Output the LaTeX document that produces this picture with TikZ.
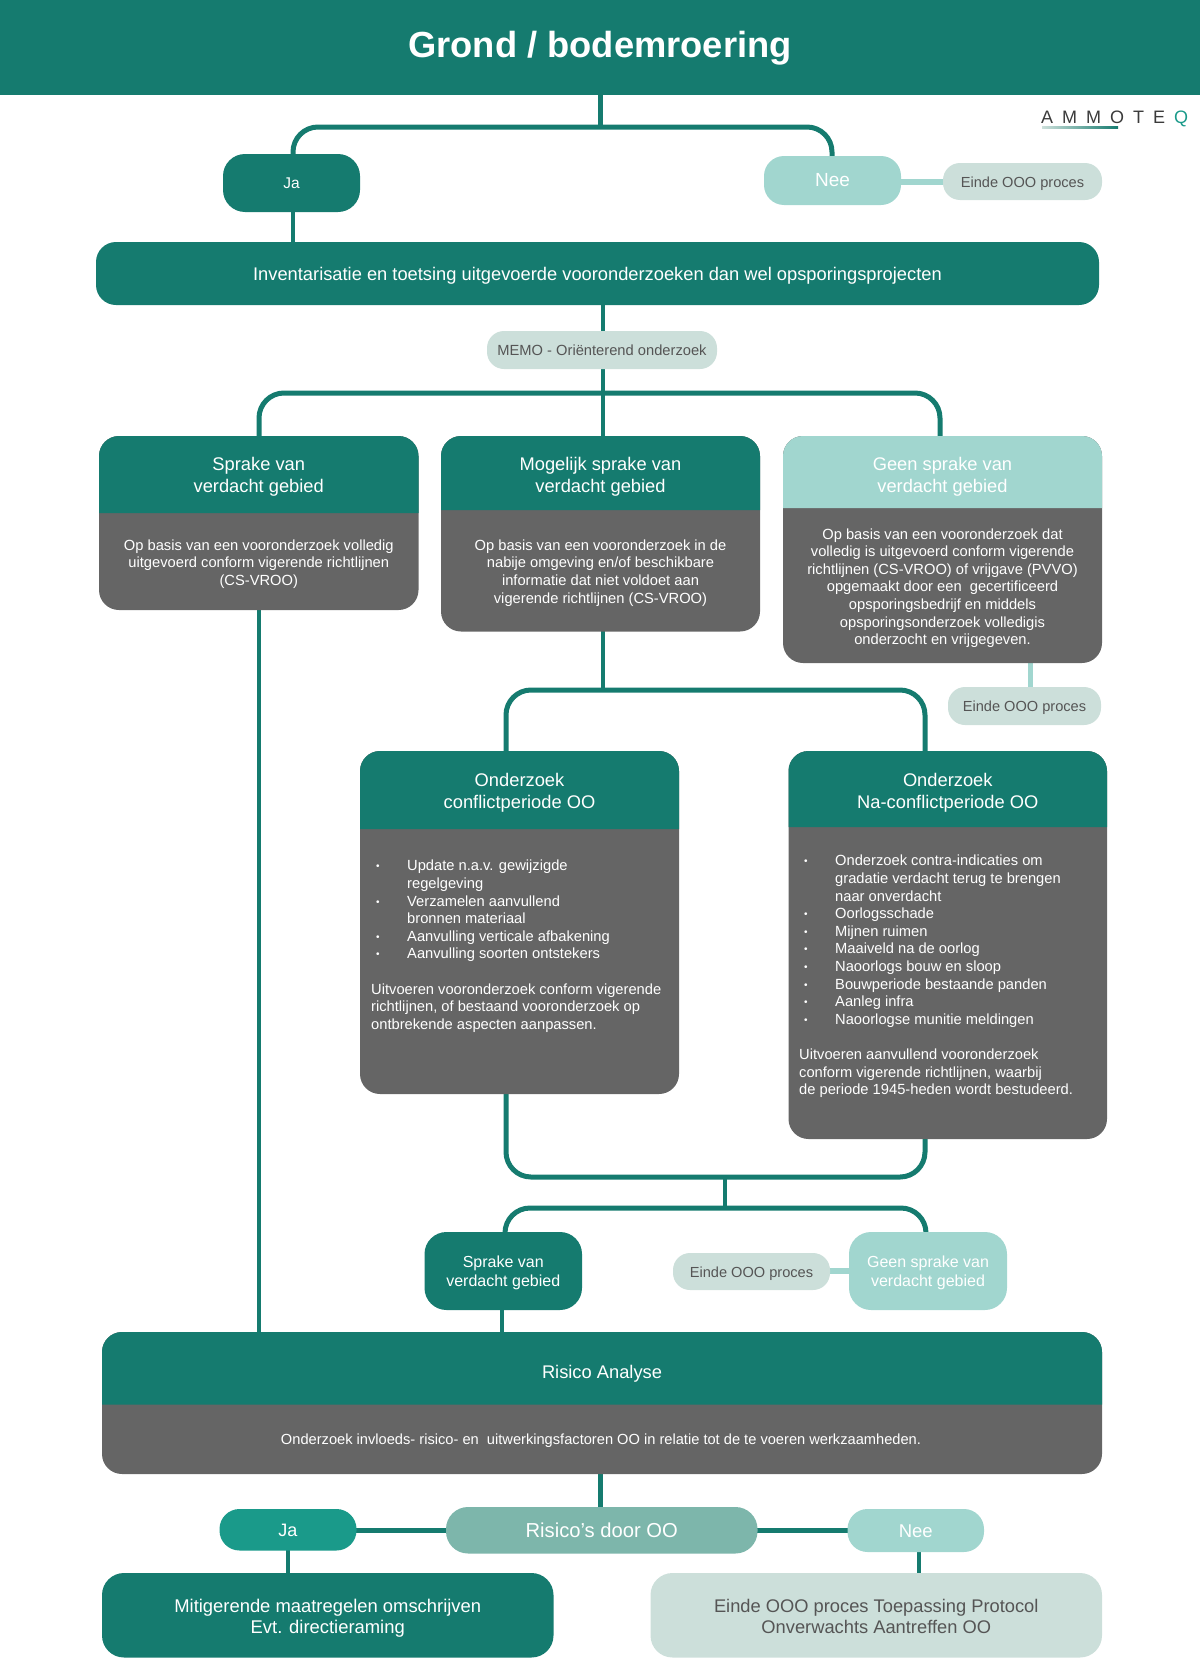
\documentclass[tikz,border=0pt]{standalone}
\usepackage{fontspec}
\setmainfont{Liberation Sans}
\newfontfamily\logofont[LetterSpace=50]{Liberation Sans}
\definecolor{mainteal}{HTML}{157B6F}
\definecolor{midteal}{HTML}{1A9A8A}
\definecolor{lightteal}{HTML}{A1D6CF}
\definecolor{softteal}{HTML}{7DB6AB}
\definecolor{palegrey}{HTML}{CCDFDA}
\definecolor{cardgrey}{HTML}{656565}
\definecolor{inkgrey}{HTML}{555555}
\newcommand{\fs}[2]{\fontsize{#1pt}{#2pt}\selectfont}
\newcommand{\bx}[8]{% style, name, x1, y1, x2, y2, text drop, text
  \pgfmathsetmacro{\bxw}{#5-#3}\pgfmathsetmacro{\bxh}{#6-#4}
  \pgfmathsetmacro{\bxx}{(#3+#5)/2}\pgfmathsetmacro{\bxy}{(#4+#6)/2}
  \node[#1,minimum width=\bxw pt,minimum height=\bxh pt] (#2) at (\bxx,\bxy) {};
  \node[#1,fill=none,yshift=-#7pt] (#2t) at (#2.center) {#8};}
\newcommand{\hd}[7]{% name, x1, y1, x2, ysplit, text centre y, text
  \fill[mainteal] (#2,#5) [rounded corners=20pt] -- (#2,#3) -- (#4,#3) [sharp corners] -- (#4,#5) -- cycle;
  \pgfmathsetmacro{\bxx}{(#2+#4)/2}
  \node[headtxt] (#1) at (\bxx,#6) {#7};}
\newcommand{\bl}{\hspace*{5pt}\makebox[31pt][l]{\raisebox{1pt}{\fs{10}{10}•}}}
\newcommand{\nb}{\hspace*{36pt}}
\tikzset{
  x=1pt,y=-1pt,
  boxbase/.style={inner sep=0pt,align=center,draw=none},
  darkbox/.style={boxbase,fill=mainteal,text=white},
  lightbox/.style={boxbase,fill=lightteal,text=white},
  palebox/.style={boxbase,fill=palegrey,text=inkgrey},
  pill/.style={rounded corners=17pt},
  cardbody/.style={boxbase,fill=cardgrey,rounded corners=20pt},
  headtxt/.style={inner sep=0pt,align=center,text=white,font=\fs{18.3}{22}},
  bodytxt/.style={inner sep=0pt,align=center,text=white,font=\fs{14.7}{17.6}},
  listtxt/.style={inner sep=0pt,align=left,text=white,font=\fs{14.7}{17.6},anchor=north west},
  conn/.style={draw=mainteal,line width=5pt},
  thin conn/.style={draw=mainteal,line width=4.5pt},
  pale conn/.style={draw=lightteal,line width=6pt},
}
\begin{document}
\begin{tikzpicture}
\useasboundingbox (0,0) rectangle (1200,1670);
% connector anchors
\coordinate (busA) at (600,127);
\coordinate (busB) at (603,393);
\coordinate (busC) at (603,690);
\coordinate (busD) at (725,1177);
\coordinate (busE) at (725,1208);
\coordinate (xJa) at (293,0);
\coordinate (xNee) at (832,0);
\coordinate (xInv) at (603,0);
\coordinate (xCardA) at (259,0);
\coordinate (xCardD) at (506,0);
\coordinate (xCardE) at (925,0);
\coordinate (xCardC) at (1030,0);
\coordinate (xVA) at (502,0);
\coordinate (xJaB) at (288,0);
\coordinate (xNeeB) at (919,0);

% connectors (behind the boxes)
\draw[conn] (600,95) coordinate (titlefoot) -- (busA);
\draw[conn,rounded corners=25pt] (xJa |- 0,154) coordinate (jaTop) |- (busA) -| (xNee |- 0,156) coordinate (neeTop);
\draw[thin conn] (xJa |- 0,212) coordinate (jaFoot) -- (xJa |- 0,242) coordinate (invTop);
\draw[pale conn] (901,182) coordinate (neeE) -- (943,182) coordinate (eindeW);
\draw[thin conn] (xInv |- 0,305) coordinate (invFoot) -- (xInv |- 0,331) coordinate (memoTop);
\draw[thin conn] (xInv |- 0,369) coordinate (memoFoot) -- (xInv |- 0,436) coordinate (cardBTop);
\draw[conn,rounded corners=25pt] (xCardA |- 0,436) coordinate (cardATop) |- (busB) -| (940,436) coordinate (cardCTop);
\draw[thin conn] (xCardA |- 0,610) coordinate (cardAFoot) -- (xCardA |- 0,1332) coordinate (risTopA);
\draw[thin conn] (xInv |- 0,631) coordinate (cardBFoot) -- (busC);
\draw[conn,rounded corners=25pt] (xCardD |- 0,751) coordinate (cardDTop) |- (busC) -| (xCardE |- 0,751) coordinate (cardETop);
\draw[conn,draw=lightteal] (xCardC |- 0,663) coordinate (cardCFoot) -- (xCardC |- 0,687) coordinate (einde3Top);
\draw[conn,rounded corners=25pt] (xCardD |- 0,1094) coordinate (cardDFoot) |- (busD) -| (xCardE |- 0,1139) coordinate (cardEFoot);
\draw[thin conn] (busD) -- (busE);
\draw[conn,rounded corners=25pt] (505,1232) coordinate (vgTop) |- (busE) -| (926,1232) coordinate (gvTop);
\draw[thin conn] (xVA |- 0,1310) coordinate (vgFoot) -- (xVA |- 0,1332) coordinate (risTopB);
\draw[pale conn] (830,1271) coordinate (eindeE) -- (849,1271) coordinate (gvW);
\draw[thin conn] (600.5,1474) coordinate (risFoot) -- (600.5,1507) coordinate (doorTop);
\draw[conn] (356,1530.5) coordinate (jaE) -- (446,1530.5) coordinate (doorW);
\draw[conn] (757,1530.5) coordinate (doorE) -- (848,1530.5) coordinate (neeW);
\draw[thin conn] (xJaB |- 0,1550) coordinate (jaBFoot) -- (xJaB |- 0,1573) coordinate (mitTop);
\draw[thin conn] (xNeeB |- 0,1552) coordinate (neeBFoot) -- (xNeeB |- 0,1573) coordinate (eindBTop);

% title band
\bx{darkbox,font=\bfseries\fs{36.3}{40}}{title}{0}{0}{1200}{95}{0.5}{Grond / bodemroering}

% logo
\node[inner sep=0pt,anchor=west,text=inkgrey!70!black,font=\logofont\fs{18}{18}] (logo) at (1041,119) {AMMOTE\hspace{9pt}\textcolor{midteal}{Q}};
\shade[left color=palegrey,right color=mainteal] (1042,126.5) rectangle (1118,128.5);

% first decision
\bx{darkbox,rounded corners=22pt,font=\fs{15.5}{18}}{ja}{223}{154}{360}{212}{0.5}{Ja}
\bx{lightbox,rounded corners=20pt,font=\fs{19}{20}}{nee}{764}{156}{901}{205}{0}{Nee}
\bx{palebox,pill,font=\fs{14.6}{18}}{eindeA}{943}{163}{1102}{200}{2}{Einde OOO proces}
\bx{darkbox,rounded corners=20pt,font=\fs{18.3}{22}}{inv}{96}{242}{1099}{305}{2}{Inventarisatie en toetsing uitgevoerde vooronderzoeken dan wel opsporingsprojecten}
\bx{palebox,pill,font=\fs{14.7}{18}}{memo}{487}{331}{717}{369}{0}{MEMO - Oriënterend onderzoek}

% card A
\bx{cardbody}{cardA}{99}{436}{418.5}{610}{0}{}
\hd{cardAh}{99}{436}{418.5}{513}{477}{Sprake van\\verdacht gebied}
\node[bodytxt] (cardAb) at (258.8,564) {Op basis van een vooronderzoek volledig\\uitgevoerd conform vigerende richtlijnen\\(CS-VROO)};
% card B
\bx{cardbody}{cardB}{441}{436}{760}{631.5}{0}{}
\hd{cardBh}{441}{436}{760}{510}{477}{Mogelijk sprake van\\verdacht gebied}
\node[bodytxt] (cardBb) at (600.5,572.8) {Op basis van een vooronderzoek in de\\nabije omgeving en/of beschikbare\\informatie dat niet voldoet aan\\vigerende richtlijnen (CS-VROO)};
% card C
\bx{cardbody}{cardC}{783}{436}{1102}{663}{0}{}
\fill[lightteal] (783,508) [rounded corners=20pt] -- (783,436) -- (1102,436) [sharp corners] -- (1102,508) -- cycle;
\node[headtxt] (cardCh) at (942.5,477) {Geen sprake van\\verdacht gebied};
\node[bodytxt] (cardCb) at (942.5,588) {Op basis van een vooronderzoek dat\\volledig is uitgevoerd conform vigerende\\richtlijnen (CS-VROO) of vrijgave (PVVO)\\opgemaakt door een\ \ gecertificeerd\\opsporingsbedrijf en middels\\opsporingsonderzoek volledigis\\onderzocht en vrijgegeven.};
\bx{palebox,pill,font=\fs{14.6}{18}}{eindeC}{948}{687}{1101}{725}{2}{Einde OOO proces}

% card D
\bx{cardbody}{cardD}{360}{751}{679}{1094}{0}{}
\hd{cardDh}{360}{751}{679}{829}{792.5}{Onderzoek\\conflictperiode OO}
\node[listtxt] (cardDb) at (371,860) {\bl Update n.a.v. gewijzigde\\\nb regelgeving\\\bl Verzamelen aanvullend\\\nb bronnen materiaal\\\bl Aanvulling verticale afbakening\\\bl Aanvulling soorten ontstekers\\[17.6pt]Uitvoeren vooronderzoek conform vigerende\\richtlijnen, of bestaand vooronderzoek op\\ontbrekende aspecten aanpassen.};
% card E
\bx{cardbody}{cardE}{788.5}{751}{1107}{1139}{0}{}
\hd{cardEh}{788.5}{751}{1107}{827}{792.5}{Onderzoek\\Na-conflictperiode OO}
\node[listtxt] (cardEb) at (799,855) {\bl Onderzoek contra-indicaties om\\\nb gradatie verdacht terug te brengen\\\nb naar onverdacht\\\bl Oorlogsschade\\\bl Mijnen ruimen\\\bl Maaiveld na de oorlog\\\bl Naoorlogs bouw en sloop\\\bl Bouwperiode bestaande panden\\\bl Aanleg infra\\\bl Naoorlogse munitie meldingen\\[17.6pt]Uitvoeren aanvullend vooronderzoek\\conform vigerende richtlijnen, waarbij\\de periode 1945-heden wordt bestudeerd.};

% second decision
\bx{darkbox,rounded corners=22pt,font=\fs{16}{19}}{vg}{424.5}{1232}{582}{1310}{2}{Sprake van\\verdacht gebied}
\bx{lightbox,rounded corners=22pt,font=\fs{16}{19}}{gv}{849}{1232}{1007}{1310}{2}{Geen sprake van\\verdacht gebied}
\bx{palebox,pill,font=\fs{14.6}{18}}{eindeD}{673}{1253}{830}{1290}{2}{Einde OOO proces}

% risk analysis
\bx{cardbody}{ris}{102}{1332}{1102}{1474}{0}{}
\hd{rish}{102}{1332}{1102}{1404.5}{1374}{Risico Analyse}
\node[bodytxt,font=\fs{14.65}{17.6}] (risb) at (601,1441) {Onderzoek invloeds- risico- en\ \ uitwerkingsfactoren OO in relatie tot de te voeren werkzaamheden.};

% final decision
\bx{boxbase,fill=softteal,text=white,rounded corners=22pt,font=\fs{20.2}{24}}{door}{446}{1507}{757.5}{1553.5}{0}{Risico’s door OO}
\bx{boxbase,fill=midteal,text=white,rounded corners=20pt,font=\fs{18}{20}}{jaB}{219.5}{1509}{356.5}{1550.5}{1}{Ja}
\bx{lightbox,rounded corners=20pt,font=\fs{18.5}{20}}{neeB}{847.5}{1509}{984}{1552}{1}{Nee}
\bx{darkbox,rounded corners=22pt,font=\fs{18.4}{21.5}}{mit}{102}{1573}{553.5}{1657.5}{3}{Mitigerende maatregelen omschrijven\\Evt. directieraming}
\bx{palebox,rounded corners=22pt,font=\fs{18.3}{21.5}}{eindB}{650.5}{1573}{1102}{1657.5}{1}{Einde OOO proces Toepassing Protocol\\Onverwachts Aantreffen OO}
\end{tikzpicture}
\end{document}
